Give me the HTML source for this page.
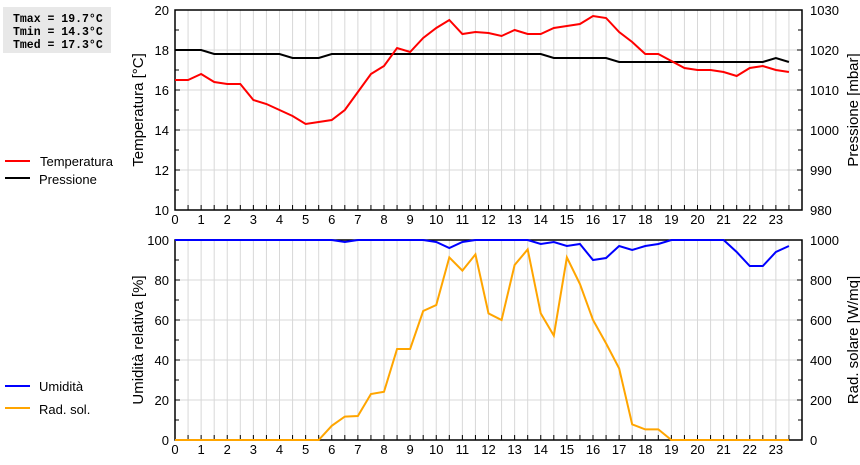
<!DOCTYPE html>
<html><head><meta charset="utf-8"><style>
body{margin:0;background:#fff;width:860px;height:460px;overflow:hidden;font-family:"Liberation Sans",sans-serif}
svg text{font-family:"Liberation Sans",sans-serif}
</style></head><body>
<svg id="chart" width="860" height="460" xmlns="http://www.w3.org/2000/svg">
<rect x="3" y="7" width="108" height="46" fill="#e8e8e8"/>
<text x="13" y="22" font-weight="bold" font-size="11.5" style="font-family:'Liberation Mono',monospace">Tmax = 19.7°C</text>
<text x="13" y="35" font-weight="bold" font-size="11.5" style="font-family:'Liberation Mono',monospace">Tmin = 14.3°C</text>
<text x="13" y="48" font-weight="bold" font-size="11.5" style="font-family:'Liberation Mono',monospace">Tmed = 17.3°C</text>
<g>
<line x1="5" y1="161" x2="30" y2="161" stroke="#f00" stroke-width="2"/>
<text x="40" y="166" font-size="13">Temperatura</text>
<line x1="5" y1="178" x2="30" y2="178" stroke="#000" stroke-width="2"/>
<text x="39" y="184" font-size="13">Pressione</text>
</g>
<g>
<line x1="5" y1="386" x2="30" y2="386" stroke="#00f" stroke-width="2"/>
<text x="39" y="391" font-size="13">Umidità</text>
<line x1="5" y1="408" x2="30" y2="408" stroke="#ffa500" stroke-width="2"/>
<text x="39" y="414" font-size="13">Rad. sol.</text>
</g>
<g id="g"></g>
</svg>
<script>
const hours=[];for(let i=0;i<48;i++)hours.push(i/2);
const temperature=[16.5,16.5,16.8,16.4,16.3,16.3,15.5,15.3,15.0,14.7,14.3,14.4,14.5,15.0,15.9,16.8,17.2,18.1,17.9,18.6,19.1,19.5,18.8,18.9,18.85,18.7,19.0,18.8,18.8,19.1,19.2,19.3,19.7,19.6,18.9,18.4,17.8,17.8,17.45,17.1,17.0,17.0,16.9,16.7,17.1,17.2,17.0,16.9];
const pressure=[1020,1020,1020,1019,1019,1019,1019,1019,1019,1018,1018,1018,1019,1019,1019,1019,1019,1019,1019,1019,1019,1019,1019,1019,1019,1019,1019,1019,1019,1018,1018,1018,1018,1018,1017,1017,1017,1017,1017,1017,1017,1017,1017,1017,1017,1017,1018,1017];
const humidity=[100,100,100,100,100,100,100,100,100,100,100,100,100,99,100,100,100,100,100,100,99,96,99,100,100,100,100,100,98,99,97,98,90,91,97,95,97,98,100,100,100,100,100,94,87,87,94,97];
const radiation=[0,0,0,0,0,0,0,0,0,0,0,0,71,117,120,230,241,455,455,645,675,913,847,928,633,600,875,953,633,522,913,780,600,483,358,78,53,53,0,0,0,0,0,0,0,0,0,0];
const xTicks=[0,1,2,3,4,5,6,7,8,9,10,11,12,13,14,15,16,17,18,19,20,21,22,23];
const tempTicks=[10,12,14,16,18,20];
const presTicks=[980,990,1000,1010,1020,1030];
const humTicks=[0,20,40,60,80,100];
const radTicks=[0,200,400,600,800,1000];
const NS='http://www.w3.org/2000/svg',G=document.getElementById('g');
const X0=175,X1=802;
const x=h=>X0+h*(X1-X0)/24;
function el(t,a,txt){const e=document.createElementNS(NS,t);for(const k in a)e.setAttribute(k,a[k]);if(txt!==undefined)e.textContent=txt;G.appendChild(e);return e;}
function panel(top,bot,lmin,lmax,rmin,rmax,lt,rt,ltitle,rtitle,pn){
  const yl=v=>bot-(v-lmin)/(lmax-lmin)*(bot-top);
  const yr=v=>bot-(v-rmin)/(rmax-rmin)*(bot-top);
  for(let i=1;i<48;i++){const l=el('line',{x1:x(i/2),x2:x(i/2),y1:top,y2:bot,stroke:'#d8d8d8'});
    }
  lt.forEach(v=>{const l=el('line',{x1:X0,x2:X1,y1:yl(v),y2:yl(v),stroke:'#d8d8d8'});
    });
  for(let i=0;i<lt.length-1;i++){const m=(lt[i]+lt[i+1])/2;
    el('line',{x1:X0,x2:X0+4,y1:yl(m),y2:yl(m),stroke:'#000'});el('line',{x1:X1,x2:X1-4,y1:yl(m),y2:yl(m),stroke:'#000'});}
  lt.forEach(v=>{el('line',{x1:X0,x2:X0+5,y1:yl(v),y2:yl(v),stroke:'#000'});
    const t=el('text',{x:X0-6,y:yl(v)+5,'text-anchor':'end','font-size':13},v);
    });
  rt.forEach(v=>{el('line',{x1:X1,x2:X1-5,y1:yr(v),y2:yr(v),stroke:'#000'});
    const t=el('text',{x:X1+8,y:yr(v)+5,'font-size':13},v);
    });
  for(let i=1;i<48;i++)el('line',{x1:x(i/2),x2:x(i/2),y1:bot,y2:bot-5,stroke:'#000'});
  xTicks.forEach(h=>{const t=el('text',{x:x(h),y:bot+14,'text-anchor':'middle','font-size':13},h);
    });
  const r=el('rect',{x:X0,y:top,width:X1-X0,height:bot-top,fill:'none',stroke:'#000','stroke-width':1.5});
  
  const cy=(top+bot)/2;
  const a=el('text',{x:0,y:0,transform:`translate(143,${cy}) rotate(-90)`,'text-anchor':'middle','font-size':15},ltitle);
  
  const b=el('text',{x:0,y:0,transform:`translate(858,${cy}) rotate(-90)`,'text-anchor':'middle','font-size':15},rtitle);
  
  return [yl,yr];
}
function line(vals,yf,color,name){
  const p=el('polyline',{points:vals.map((v,i)=>x(hours[i])+','+yf(v)).join(' '),fill:'none',stroke:color,'stroke-width':2});
  
}
const [ty,py]=panel(10,210,10,20,980,1030,tempTicks,presTicks,'Temperatura [°C]','Pressione [mbar]','top');
line(pressure,py,'#000','pressure-line');
line(temperature,ty,'#f00','temperature-line');
const [hy,ry]=panel(240,440,0,100,0,1000,humTicks,radTicks,'Umidità relativa [%]','Rad. solare [W/mq]','bottom');
line(radiation,ry,'#ffa500','radiation-line');
line(humidity,hy,'#00f','humidity-line');
</script>
</body></html>
